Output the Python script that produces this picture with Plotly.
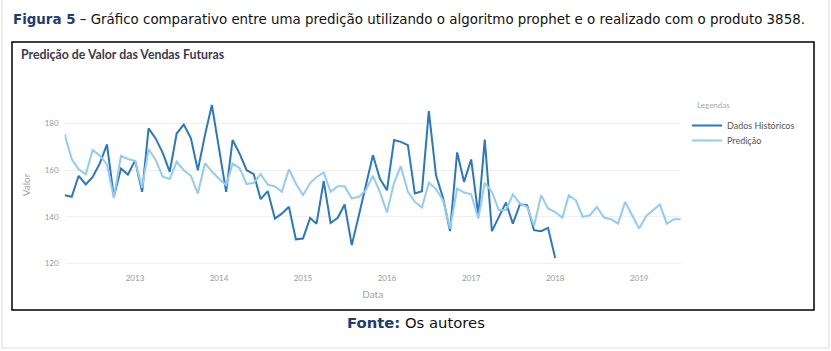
import pandas as pd
import plotly.graph_objects as go

W, H = 831, 351

# ---- data (monthly) ----
hist_start = "2012-03-01"
hist_values = [149.3, 148.6, 157.6, 153.9, 157.1, 162.9, 171.0, 148.6, 160.7, 158.1,
               164.1, 150.7, 177.9, 173.5, 167.5, 159.3, 175.7, 179.5, 173.6, 160.0,
               175.0, 187.9, 169.3, 150.7, 172.9, 167.0, 160.0, 158.3, 147.6, 151.0,
               139.3, 141.4, 144.3, 130.4, 130.7, 139.5, 137.1, 155.3, 137.4, 139.6,
               145.3, 127.9, 140.7, 153.6, 166.4, 156.4, 151.4, 172.9, 172.1, 170.7,
               150.0, 151.0, 185.3, 157.9, 148.0, 133.9, 167.6, 155.0, 164.6, 140.7,
               173.1, 133.9, 140.0, 146.1, 137.1, 145.4, 145.0, 134.3, 133.9, 135.3,
               122.4]
pred_start = "2012-03-01"
pred_values = [175.4, 164.8, 160.4, 158.2, 168.6, 166.2, 162.5, 148.2, 166.1, 164.8,
               164.0, 152.5, 169.0, 164.4, 157.2, 156.2, 163.6, 160.0, 157.6, 150.0,
               163.0, 159.4, 156.3, 153.6, 162.8, 160.9, 154.0, 154.6, 158.3, 153.8,
               153.0, 150.7, 160.4, 154.3, 149.3, 154.5, 157.1, 159.0, 150.7, 153.1,
               153.1, 147.9, 148.6, 151.4, 157.6, 150.7, 141.9, 154.7, 161.7, 150.7,
               146.4, 144.0, 154.7, 151.9, 147.1, 135.0, 152.1, 150.4, 149.7, 139.3,
               154.7, 150.7, 142.9, 142.9, 149.6, 145.7, 144.3, 136.1, 149.3, 143.6,
               142.1, 139.6, 149.2, 147.1, 140.0, 140.7, 144.3, 139.7, 139.0, 137.1,
               146.4, 140.7, 135.0, 140.4, 142.9, 145.3, 137.1, 139.0, 139.0]
series_names = ["Dados Históricos", "Predição"]
y_ticks = [120, 140, 160, 180]

hist_dates = pd.date_range(hist_start, periods=len(hist_values), freq="MS")
pred_dates = pd.date_range(pred_start, periods=len(pred_values), freq="MS")

def px(x):
    return x / W

def py(y):
    return 1 - y / H

DARK = "#2a77c2"
LIGHT = "#92cbf6"
FONT = "Lato"

fig = go.Figure()
fig.add_trace(go.Scatter(x=hist_dates, y=hist_values, mode="lines", name=series_names[0],
                         line=dict(color=DARK, width=2), legend="legend"))
fig.add_trace(go.Scatter(x=pred_dates, y=pred_values, mode="lines", name=series_names[1],
                         line=dict(color=LIGHT, width=2), legend="legend2"))

legend_common = dict(xanchor="left", yanchor="top", bgcolor="rgba(0,0,0,0)",
                     font=dict(family=FONT, size=9, color="#555560"),
                     borderwidth=0, itemwidth=30)

fig.update_layout(
    width=W, height=H,
    margin=dict(l=0, r=0, t=0, b=0),
    paper_bgcolor="white", plot_bgcolor="white",
    font=dict(family=FONT),
    showlegend=True,
    legend=dict(x=px(687), y=py(111), **legend_common),
    legend2=dict(x=px(687), y=py(126), **legend_common),
    xaxis=dict(
        domain=[px(64.6), px(680.8)],
        range=["2012-03-01", "2019-07-01"],
        type="date",
        tick0="2013-01-01", dtick="M12", tickformat="%Y",
        showgrid=False, zeroline=False, showline=False, ticks="",
        tickfont=dict(family=FONT, size=8, color="#9a9aa6"),
        title=dict(text="Data", font=dict(family=FONT, size=10, color="#a0a0aa"), standoff=8),
        automargin=False,
    ),
    yaxis=dict(
        domain=[py(272), py(98)],
        range=[116.4, 190.9],
        tickvals=y_ticks,
        showgrid=True, gridcolor="#efeff2", gridwidth=1,
        zeroline=False, showline=False, ticks="",
        ticklabelstandoff=5,
        tickfont=dict(family=FONT, size=8, color="#9a9aa6"),
        title=dict(text="Valor", font=dict(family=FONT, size=10, color="#a0a0aa"), standoff=12),
        automargin=False,
    ),
)

annotations = [
    dict(text="<b><span style='color:#1f3b73'>Figura 5</span></b> – Gráfico comparativo entre uma predição utilizando o algoritmo prophet e o realizado com o produto 3858.",
         x=px(11), y=py(20), xanchor="left", yanchor="middle", showarrow=False,
         font=dict(family="DejaVu Sans", size=13.4, color="#111111")),
    dict(text="<b>Predição de Valor das Vendas Futuras</b>",
         x=px(19), y=py(55), xanchor="left", yanchor="middle", showarrow=False,
         font=dict(family=FONT, size=12.3, color="#3a3a4c")),
    dict(text="Legendas",
         x=px(695), y=py(105), xanchor="left", yanchor="middle", showarrow=False,
         font=dict(family=FONT, size=8, color="#aaaab2")),
    dict(text="<b><span style='color:#1f3b73'>Fonte:</span></b> Os autores",
         x=px(416), y=py(322), xanchor="center", yanchor="middle", showarrow=False,
         font=dict(family="DejaVu Sans", size=14.8, color="#111111")),
]
for a in annotations:
    a["xref"] = "paper"
    a["yref"] = "paper"
fig.update_layout(annotations=annotations)

shapes = [
    dict(type="rect", x0=px(12), x1=px(814), y0=py(310), y1=py(42),
         line=dict(color="black", width=1.5), fillcolor="rgba(0,0,0,0)"),
    dict(type="rect", x0=px(2), x1=px(829), y0=py(348), y1=py(-3),
         line=dict(color="#dcdcdc", width=1), fillcolor="rgba(0,0,0,0)"),
]
for s in shapes:
    s["xref"] = "paper"
    s["yref"] = "paper"
    s["layer"] = "below"
fig.update_layout(shapes=shapes)

fig.write_html("out.html")
